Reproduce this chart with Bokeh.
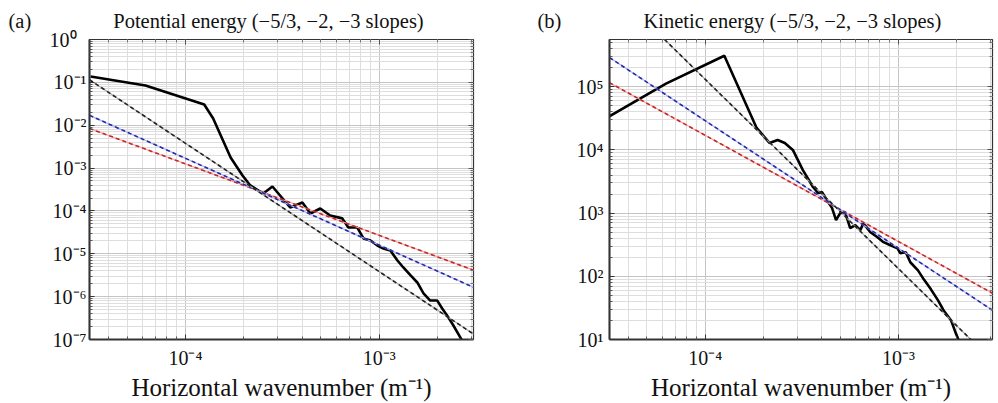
from bokeh.plotting import figure
from bokeh.models import FixedTicker, LogAxis, Range1d
from bokeh.layouts import row
from bokeh.embed import file_html
from bokeh.resources import INLINE

# ---------------- data ----------------
# panel (a): potential energy spectrum
k_pe = [3.24e-5, 6.22e-5, 1.25e-4, 1.39e-4, 1.71e-4, 1.97e-4, 2.16e-4, 2.52e-4,
        2.81e-4, 3.47e-4, 4.01e-4, 4.41e-4, 4.96e-4, 5.58e-4, 6.44e-4, 6.92e-4,
        7.70e-4, 8.28e-4, 9.0e-4, 9.77e-4, 1.05e-3, 1.14e-3, 1.24e-3, 1.33e-3,
        1.45e-3, 1.57e-3, 1.69e-3, 1.83e-3, 1.99e-3, 2.11e-3, 2.24e-3, 2.41e-3,
        2.62e-3, 2.71e-3]
pe = [0.137, 0.0845, 0.0304, 0.01435, 1.77e-3, 6.7e-4, 3.93e-4, 2.55e-4,
      3.72e-4, 1.20e-4, 1.57e-4, 8.7e-5, 1.14e-4, 7.8e-5, 6.7e-5, 4.1e-5,
      4.1e-5, 2.28e-5, 2.04e-5, 1.56e-5, 1.33e-5, 1.19e-5, 6.98e-6, 4.79e-6,
      3.12e-6, 2.14e-6, 1.19e-6, 8.1e-7, 8.1e-7, 5.3e-7, 3.6e-7, 2.12e-7,
      1.11e-7, 8.5e-8]

# panel (b): kinetic energy spectrum
k_ke = [3.16e-5, 6.27e-5, 1.256e-4, 1.845e-4, 2.15e-4, 2.37e-4, 2.58e-4, 2.84e-4,
        3.20e-4, 3.61e-4, 3.83e-4, 4.02e-4, 4.26e-4, 4.53e-4, 4.75e-4, 4.99e-4,
        5.29e-4, 5.62e-4, 5.97e-4, 6.34e-4, 6.57e-4, 7.15e-4, 7.78e-4, 8.36e-4,
        9.08e-4, 9.88e-4, 1.02e-3, 1.09e-3, 1.15e-3, 1.26e-3, 1.35e-3, 1.47e-3,
        1.60e-3, 1.71e-3, 1.87e-3, 1.98e-3, 2.05e-3]
ke = [3.34e4, 1.12e5, 3.10e5, 2.23e4, 1.29e4, 1.44e4, 1.29e4, 1.0e4,
      4.8e3, 2.59e3, 2.08e3, 2.15e3, 1.61e3, 1.20e3, 774, 1.0e3,
      1.04e3, 578, 645, 537, 694, 499, 416, 347,
      310, 278, 232, 240, 167, 124, 89.5, 62.2,
      41.6, 28.8, 20.0, 12.4, 9.6]

# reference slope lines (-5/3, -2, -3), end values at the x-range ends
k_ends = [3.2e-5, 3.06e-3]
pe_m53 = [8.4e-3, 4.15e-6]
pe_m2 = [0.017, 1.65e-6]
pe_m3 = [0.115, 1.34e-7]
ke_m53 = [1.16e5, 54.0]
ke_m2 = [2.9e5, 29.0]
ke_m3 = [4.0e6, 4.6]

x_major = [1e-4, 1e-3]
x_labels = ["10\u207b\u2074", "10\u207b\u00b3"]
pe_major = [1e0, 1e-1, 1e-2, 1e-3, 1e-4, 1e-5, 1e-6, 1e-7]
pe_labels = ["10\u2070\u00a0\u00a0", "10\u207b\u00b9", "10\u207b\u00b2", "10\u207b\u00b3",
             "10\u207b\u2074", "10\u207b\u2075", "10\u207b\u2076", "10\u207b\u2077"]
ke_major = [1e1, 1e2, 1e3, 1e4, 1e5]
ke_labels = ["10\u00b9", "10\u00b2", "10\u00b3", "10\u2074", "10\u2075"]

titles = ["Potential energy (\u22125/3, \u22122, \u22123 slopes)",
          "Kinetic energy (\u22125/3, \u22122, \u22123 slopes)"]
panel_tags = ["(a)", "(b)"]
xlabel = "Horizontal wavenumber (m\u207b\u00b9)"

SERIF = "Liberation Serif"


def minors(lo_exp, hi_exp):
    out = []
    for e in range(lo_exp, hi_exp + 1):
        for m in range(2, 10):
            out.append(m * 10.0 ** e)
    return out


def make_panel(k, spec, m53, m2, m3, yr, ymaj, ylab, ymin_exp, ymax_exp,
               title, tag, gap, fw, ml, mr, ystand, tag_off):
    p = figure(x_axis_type="log", y_axis_type="log",
               x_range=Range1d(k_ends[0], k_ends[1]), y_range=Range1d(*yr),
               frame_width=fw, frame_height=300,
               min_border_left=ml, min_border_right=mr,
               min_border_top=39, min_border_bottom=64,
               output_backend="svg", toolbar_location=None)
    p.background_fill_color = "white"
    p.border_fill_color = "white"
    p.outline_line_color = "#333333"
    p.outline_line_width = 1.2

    # panel tag and title share one line, like the reference
    p.title.text = tag + "\u00a0" * gap + title
    p.title.text_font = SERIF
    p.title.text_font_size = "20.5px"
    p.title.text_font_style = "normal"
    p.title.text_color = "#111111"
    p.title.align = "left"
    p.title.offset = tag_off
    p.title.standoff = 15

    xt = FixedTicker(ticks=x_major, minor_ticks=minors(-5, -3))
    yt = FixedTicker(ticks=ymaj, minor_ticks=minors(ymin_exp, ymax_exp))

    for ax in p.xaxis:
        ax.ticker = xt
        ax.major_label_overrides = dict(zip(x_major, x_labels))
        ax.major_label_standoff = 7
        ax.axis_label = xlabel
        ax.axis_label_text_font = SERIF
        ax.axis_label_text_font_size = "25px"
        ax.axis_label_text_font_style = "normal"
        ax.axis_label_text_color = "#111111"
        ax.axis_label_standoff = 2
    for ax in p.yaxis:
        ax.ticker = yt
        ax.major_label_overrides = dict(zip(ymaj, ylab))
        ax.major_label_standoff = ystand
    for ax in list(p.xaxis) + list(p.yaxis):
        ax.major_label_text_font = SERIF
        ax.major_label_text_font_size = "20px"
        ax.major_label_text_color = "#111111"
        ax.major_tick_in = 5
        ax.major_tick_out = 0
        ax.minor_tick_in = 3
        ax.minor_tick_out = 0
        ax.axis_line_color = "#333333"
        ax.axis_line_width = 2
        ax.major_tick_line_color = "#333333"
        ax.minor_tick_line_color = "#555555"

    for axis_ticker, place in ((xt, "above"), (yt, "right")):
        ax2 = LogAxis(ticker=axis_ticker, major_label_text_font_size="1px",
                      major_label_text_alpha=0, major_label_standoff=0,
                      major_tick_in=5, major_tick_out=0,
                      minor_tick_in=3, minor_tick_out=0, axis_line_color=None,
                      major_tick_line_color="#555555",
                      minor_tick_line_color="#777777")
        p.add_layout(ax2, place)

    p.xgrid.ticker = xt
    p.ygrid.ticker = yt
    for g in (p.xgrid, p.ygrid):
        g.grid_line_color = "#c4c4c4"
        g.grid_line_width = 1
        g.minor_grid_line_color = "#dedede"
        g.minor_grid_line_width = 1

    # spectrum
    p.line(k, spec, line_color="black", line_width=2.6)
    # slope lines: soft solid underlay + dashed line
    for vals, soft, dark in ((m53, "#f3a3a3", "#c62828"),
                             (m2, "#aab4f0", "#2a2aa8"),
                             (m3, "#a8a8a8", "#222222")):
        p.line(k_ends, vals, line_color=soft, line_width=1.2)
        p.line(k_ends, vals, line_color=dark, line_width=1.6, line_dash="4 3")
    return p


pa = make_panel(k_pe, pe, pe_m53, pe_m2, pe_m3, (1e-7, 1e0), pe_major, pe_labels,
                -8, 0, titles[0], panel_tags[0], 16, 384, 89, 47, 3, -81)
pb = make_panel(k_ke, ke, ke_m53, ke_m2, ke_m3, (10, 5.6e5), ke_major, ke_labels,
                1, 5, titles[1], panel_tags[1], 16, 383, 89, 6, 6, -72)

layout = row(pa, pb)
open("out.html", "w").write(file_html(layout, INLINE))
